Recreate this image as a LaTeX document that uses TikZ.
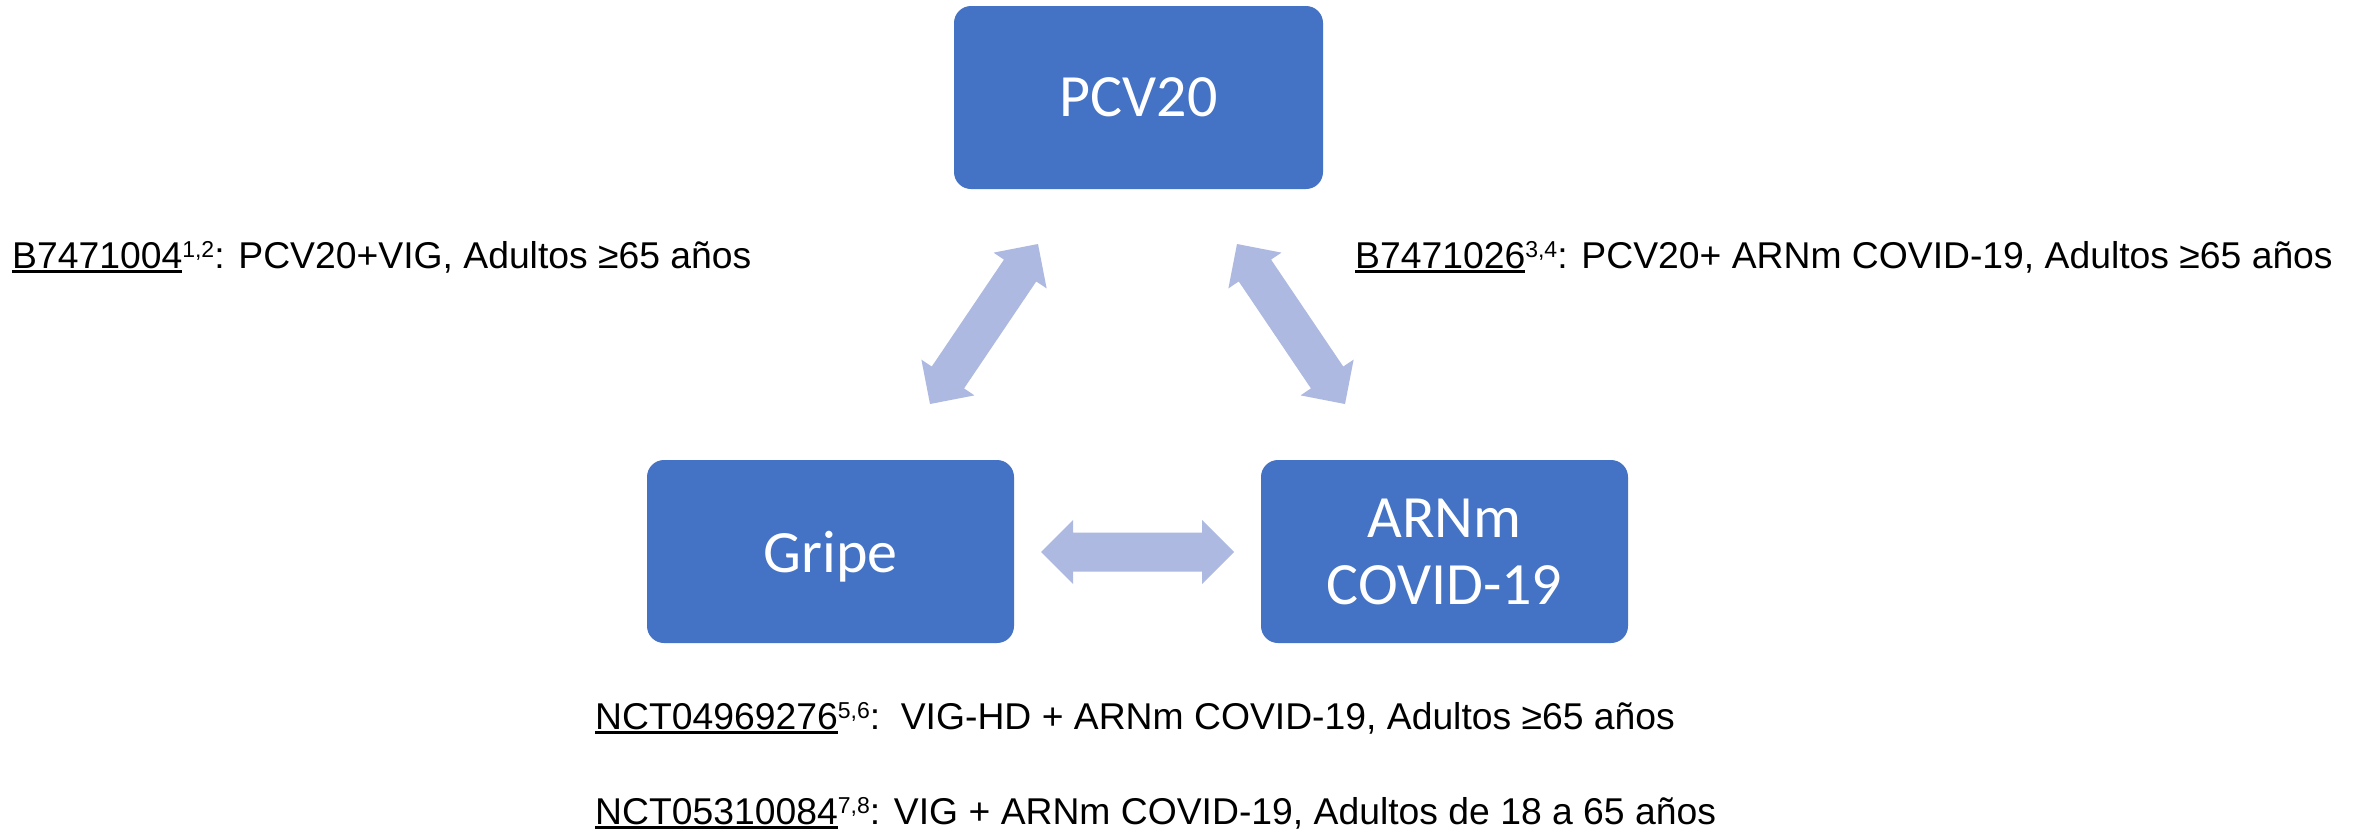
\documentclass[tikz,border=0pt]{standalone}
\usepackage{fontspec}
\usetikzlibrary{calc}
\newfontfamily\arialf{Liberation Sans}
\newfontfamily\calibf{Carlito}
\definecolor{boxblue}{HTML}{4472C4}
\definecolor{arrowc}{RGB}{173,185,224}
\newcommand\ulid[1]{\setbox0\hbox{#1}\rlap{\rule[-5pt]{\wd0}{3pt}}\box0}
\newcommand\supnum[1]{\raisebox{10.5pt}{\fontsize{23}{23}\selectfont #1}}
\newcommand\biarrowfill[2]{%
\fill[arrowc] (#1)
 -- ($(#1)!32pt!(#2)!32pt!90:(#2)$)
 -- ($(#1)!32pt!(#2)!19.5pt!90:(#2)$)
 -- ($(#2)!32pt!(#1)!19.5pt!-90:(#1)$)
 -- ($(#2)!32pt!(#1)!32pt!-90:(#1)$)
 -- (#2)
 -- ($(#2)!32pt!(#1)!32pt!90:(#1)$)
 -- ($(#2)!32pt!(#1)!19.5pt!90:(#1)$)
 -- ($(#1)!32pt!(#2)!19.5pt!-90:(#2)$)
 -- ($(#1)!32pt!(#2)!32pt!-90:(#2)$)
 -- cycle;}
\tikzset{
  vbox/.style={fill=boxblue, draw=none, rounded corners=17pt, text=white,
    font=\calibf\fontsize{60}{67}\selectfont, align=center, inner sep=0pt,
    minimum height=183pt, text depth=0pt},
  lab/.style={anchor=base west, inner sep=0pt, text=black,
    font=\arialf\fontsize{37.3}{44}\selectfont}
}
\begin{document}
\begin{tikzpicture}[x=1pt, y=-1pt]
\useasboundingbox (0,0) rectangle (2364,831);
\fill[white] (0,0) rectangle (2364,831);
% boxes
\node[vbox, minimum width=369pt] (pcv) at (1138.5,97.5) {PCV20};
\node[vbox, minimum width=367pt] (gripe) at (830.5,551.5) {Gripe};
\node[vbox, minimum width=367pt] (arnm) at (1444.5,551.5) {ARNm\\COVID-19};
% arrow ends
\coordinate (l1) at (1038,244);
\coordinate (l2) at (930,404);
\coordinate (r1) at (1237,244);
\coordinate (r2) at (1345,404);
\coordinate (h1) at (1041,552);
\coordinate (h2) at (1234,552);
\biarrowfill{l1}{l2}
\biarrowfill{r1}{r2}
\biarrowfill{h1}{h2}
% labels
\node[lab] (t1) at (12,268) {\ulid{B7471004}\supnum{1,2}: PCV20+VIG, Adultos ≥65 años};
\node[lab] (t2) at (1355,268) {\ulid{B7471026}\supnum{3,4}: PCV20+ ARNm COVID-19, Adultos ≥65 años};
\node[lab] (t3) at (595,729) {\ulid{NCT04969276}\supnum{5,6}:\ \ VIG-HD + ARNm COVID-19, Adultos ≥65 años};
\node[lab] (t4) at (595,824) {\ulid{NCT05310084}\supnum{7,8}: VIG + ARNm COVID-19, Adultos de 18 a 65 años};
\end{tikzpicture}
\end{document}
